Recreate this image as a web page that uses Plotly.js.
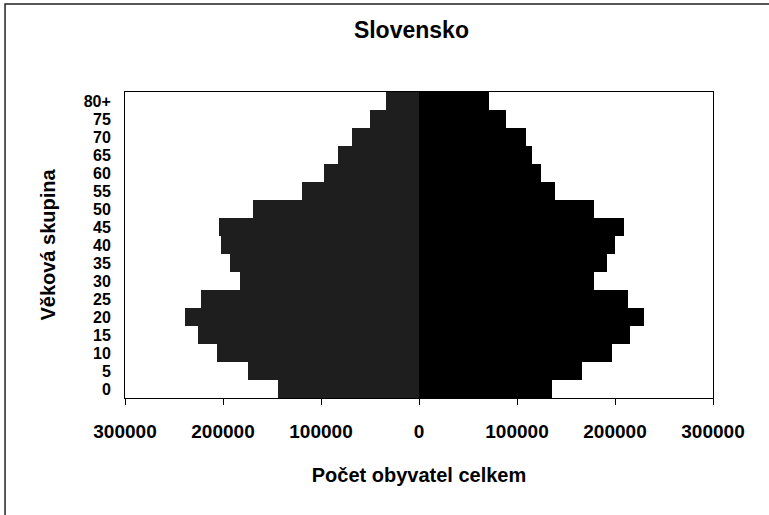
<!DOCTYPE html>
<html>
<head>
<meta charset="utf-8">
<script src="https://cdn.plot.ly/plotly-3.0.1.min.js"></script>
<style>html,body{margin:0;padding:0;background:#fff;}#chart{width:769px;height:515px;}</style>
</head>
<body>
<div id="chart"></div>
<script>
const ageGroups = ['0','5','10','15','20','25','30','35','40','45','50','55','60','65','70','75','80+'];
const leftSide  = [144000,175000,206000,226000,239000,222000,183000,193000,202000,204000,169000,119000,97000,83000,68000,50000,34000];
const rightSide = [136000,166000,197000,215000,230000,213000,179000,192000,200000,209000,179000,139000,124000,115000,109000,89000,71000];
const tickVals = [-300000,-200000,-100000,0,100000,200000,300000];
const tickText = ['300000','200000','100000','0','100000','200000','300000'];

const FONT = 'Liberation Sans, Arial, sans-serif';

const traces = [
  {type:'bar', orientation:'h', y: ageGroups, x: leftSide.map(v => -v),
   marker:{color:'#1e1e1e', line:{width:0}}, hoverinfo:'skip', showlegend:false},
  {type:'bar', orientation:'h', y: ageGroups, x: rightSide,
   marker:{color:'#000000', line:{width:0}}, hoverinfo:'skip', showlegend:false}
];

const layout = {
  width:769, height:515,
  margin:{l:125, r:56, t:92, b:117},
  paper_bgcolor:'#ffffff', plot_bgcolor:'#ffffff',
  barmode:'relative', bargap:0,
  font:{family:FONT, color:'#000', size:20},
  title:{text:'<b>Slovensko</b>', font:{family:FONT, size:23, color:'#000'},
         x:0.535, xanchor:'center', yref:'container', y:0.942, yanchor:'middle'},
  xaxis:{range:[-300000,300000], tickvals:tickVals, ticktext:tickText,
         tickfont:{family:FONT, size:19, weight:'bold'},
         ticks:'outside', ticklen:6, tickcolor:'#000', tickwidth:1,
         showline:true, linecolor:'#000', linewidth:1, mirror:true,
         showgrid:false, zeroline:false, ticklabelstandoff:10,
         title:{text:'<b>Počet obyvatel celkem</b>', font:{family:FONT, size:20}, standoff:27}},
  yaxis:{type:'category', range:[-0.5,16.5],
         tickmode:'array', tickvals:ageGroups, ticktext:ageGroups,
         tickfont:{family:FONT, size:16, weight:'bold'},
         ticks:'', showline:true, linecolor:'#000', linewidth:1, mirror:true,
         showgrid:false, zeroline:false, ticklabelstandoff:10,
         title:{text:'<b>Věková skupina</b>', font:{family:FONT, size:20}, standoff:22}},
  shapes:[
    {type:'rect', xref:'paper', yref:'paper', x0:-0.204, x1:1.12, y0:-0.45, y1:1.2876,
     line:{color:'#222', width:1.5}, fillcolor:'rgba(0,0,0,0)', layer:'above'}
  ]
};

Plotly.newPlot('chart', traces, layout, {staticPlot:true, displayModeBar:false});
</script>
</body>
</html>
